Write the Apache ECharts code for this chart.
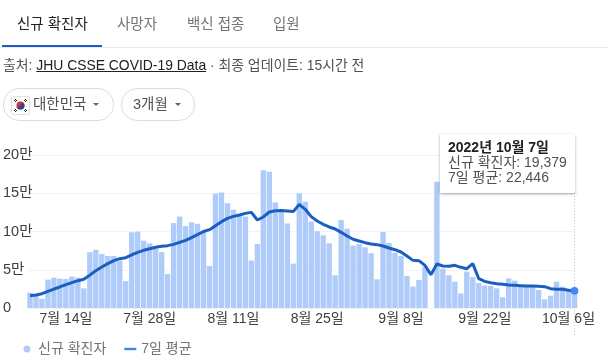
<!DOCTYPE html>
<html>
<head>
<meta charset="utf-8">
<script src="https://cdn.jsdelivr.net/npm/echarts@6/dist/echarts.min.js"></script>
<style>
html, body { margin: 0; padding: 0; background: #fff; }
body { width: 609px; height: 355px; overflow: hidden; position: relative; font-family: "Liberation Sans", "Noto Sans CJK KR", sans-serif; }
#chart { position: absolute; left: 0; top: 0; width: 609px; height: 355px; }
.tab { position: absolute; top: 15px; font-size: 14.5px; line-height: 18px; color: #70757a; white-space: nowrap; }
.tab.on { color: #202124; }
#tabline { position: absolute; left: 2px; top: 45px; width: 100px; height: 2px; background: #1a5fc0; }
#divider { position: absolute; left: 0; top: 47px; width: 609px; height: 1px; background: #e8eaed; }
#source { position: absolute; left: 3px; top: 57px; font-size: 13.9px; line-height: 17px; color: #4d5156; white-space: nowrap; }
#source u { color: #202124; }
.pill { position: absolute; top: 88px; height: 31px; border: 1px solid #dadce0; border-radius: 16px; box-sizing: content-box; font-size: 14.5px; line-height: 31px; color: #4d5156; white-space: nowrap; }
.pill span { position: absolute; top: 0; }
.caret { position: absolute; top: 14px; width: 0; height: 0; border-left: 3.5px solid transparent; border-right: 3.5px solid transparent; border-top: 3.5px solid #5f6368; }
#flag { position: absolute; left: 7px; top: 7px; width: 17px; height: 17px; border: 1px solid #e0e0e0; border-radius: 2px; }
</style>
</head>
<body>
<div id="chart"></div>
<div class="tab on" style="left:17px">신규 확진자</div>
<div class="tab" style="left:117px">사망자</div>
<div class="tab" style="left:187px">백신 접종</div>
<div class="tab" style="left:273px">입원</div>
<div id="tabline"></div>
<div id="divider"></div>
<div id="source">출처: <u>JHU CSSE COVID-19 Data</u> · 최종 업데이트: 15시간 전</div>
<div class="pill" style="left:3px;width:109px">
  <svg id="flag" viewBox="0 0 17 17"><rect width="17" height="17" fill="#fff"/><circle cx="8.5" cy="8.5" r="4" fill="#c8313e"/><path d="M4.5 8.5a4 4 0 0 0 8 0a2 2 0 0 0-4 0a2 2 0 0 1-4 0z" fill="#1f4a9c"/><path d="M2 3l2 2M3 2l2 2M15 3l-2 2M14 2l-2 2M2 14l2-2M3 15l2-2M15 14l-2-2M14 15l-2-2" stroke="#222" stroke-width="1"/></svg>
  <span style="left:29px">대한민국</span><i class="caret" style="left:89px"></i>
</div>
<div class="pill" style="left:121px;width:72px">
  <span style="left:11px">3개월</span><i class="caret" style="left:53px"></i>
</div>
<script>
// 신규 확진자 (2022-07-08 ~ 2022-10-07)
var newCases = [
	20000, 18000, 12000, 37000, 39600, 38300, 38000, 41000, 39600, 25700,
	73000, 76000, 70500, 68000, 68000, 62000, 35000, 99000, 100000, 88000,
	84500, 77500, 73000, 44500, 111000, 119500, 107000, 112000, 110000, 100000,
	55000, 149500, 151000, 137000, 128500, 122500, 119500, 62000, 83500, 180000,
	178000, 138000, 127000, 110500, 58000, 150000, 139000, 113000, 100500, 95000,
	84500, 42700, 115000, 103700, 81500, 83600, 79300, 71500, 37500, 99300,
	85000, 72300, 68000, 42000, 28000, 36600, 54000, null, 165000, 51400,
	42700, 34400, 19000, 47500, 40500, 32700, 29200, 28800, 25700, 14000,
	38800, 35700, 29600, 28800, 28800, 23500, 11300, 16100, 34400, 27900,
	25300, 19379
];
// 7일 평균
var avgCases = [
	16100, 17000, 18700, 21800, 24800, 27500, 30500, 33100, 35700, 37500,
	43000, 48800, 53600, 58000, 62000, 64500, 65800, 69300, 72800, 75400,
	77500, 79300, 80600, 81500, 83200, 85800, 88400, 92000, 95900, 100000,
	102400, 107600, 112800, 117200, 119800, 121500, 123700, 125000, 115000, 119000,
	125500, 127200, 127600, 126800, 126000, 135500, 129000, 119400, 113700, 109400,
	105900, 103300, 98900, 94100, 89800, 87600, 85400, 83700, 82800, 81000,
	78400, 76200, 73200, 68000, 62300, 61900, 55800, 43600, 57500, 54900,
	54500, 55800, 53200, 51400, 58000, 38300, 34800, 33100, 31800, 30900,
	30000, 29600, 29200, 28800, 28800, 28300, 27900, 25300, 24400, 24400,
	23100, 22446
];
var tickDays = ['7월 14일', '7월 28일', '8월 11일', '8월 25일', '9월 8일', '9월 22일', '10월 6일'];

var days = [];
var d = new Date(2022, 6, 8);
for (var i = 0; i < newCases.length; i++) {
	days.push((d.getMonth() + 1) + '월 ' + d.getDate() + '일');
	d.setDate(d.getDate() + 1);
}

var fontName = '"Liberation Sans", "Noto Sans CJK KR", sans-serif';
var lastIdx = days.length - 1;
var myChart = echarts.init(document.getElementById('chart'), null, { renderer: 'canvas' });

var option = {
	animation: false,
	textStyle: { fontFamily: fontName },
	grid: { left: 25.5, right: 31.5, top: 155, bottom: 47, containLabel: false },
	legend: {
		left: 18.5, top: 337, itemGap: 18, itemWidth: 12, itemHeight: 7,
		textStyle: { color: '#70757a', fontSize: 14, fontFamily: fontName },
		data: [
			{ name: '신규 확진자', icon: 'circle' },
			{ name: '7일 평균', icon: 'path://M0 0H12V2.4H0Z' }
		]
	},
	tooltip: {
		trigger: 'axis',
		alwaysShowContent: true,
		transitionDuration: 0,
		axisPointer: { type: 'none' },
		position: [440, 134],
		padding: [6, 8, 8, 8],
		borderWidth: 0,
		borderRadius: 1,
		backgroundColor: '#fff',
		extraCssText: 'box-shadow:0 1px 3px rgba(0,0,0,.35);line-height:15px;width:119px;',
		textStyle: { color: '#4d5156', fontSize: 14, fontFamily: fontName },
		formatter: function() {
			return '<b style="color:#202124">2022년 10월 7일</b><br>신규 확진자: 19,379<br>7일 평균: 22,446';
		}
	},
	xAxis: {
		type: 'category',
		data: days,
		axisTick: { show: false },
		axisLine: { show: false },
		axisLabel: {
			color: '#3c4043', fontSize: 14, margin: 4,
			interval: function(idx, val) { return tickDays.indexOf(val) >= 0; }
		}
	},
	yAxis: {
		type: 'value', min: 0, max: 200000, interval: 50000,
		axisLabel: {
			color: '#3c4043', fontSize: 14.5, align: 'left', margin: 24, padding: [7, 0, 0, 0],
			formatter: function(v) { return v === 0 ? '0' : (v / 10000) + '만'; }
		},
		splitLine: { lineStyle: { color: '#f1f3f4', width: 1 } }
	},
	series: [
		{
			name: '신규 확진자', type: 'bar', data: newCases,
			barCategoryGap: '10%',
			itemStyle: { color: '#aecbfa' },
			emphasis: { disabled: true }
		},
		{
			name: '7일 평균', type: 'line', data: avgCases,
			smooth: false,
			showSymbol: true,
			symbol: function(v, p) { return p.dataIndex === lastIdx ? 'circle' : 'none'; },
			symbolSize: 7,
			lineStyle: { color: '#1a5fc0', width: 3 },
			itemStyle: { color: '#4285f4' },
			emphasis: { disabled: true }
		}
	]
};
myChart.setOption(option);

// 마지막 날짜 점선
var guideX = myChart.convertToPixel({ xAxisIndex: 0 }, days[lastIdx]);
myChart.setOption({
	graphic: [{
		type: 'line', silent: true, z: 0,
		shape: { x1: guideX, y1: 190, x2: guideX, y2: 337 },
		style: { stroke: '#c4c7c5', lineWidth: 1, lineDash: [1, 2] }
	}]
});
myChart.dispatchAction({ type: 'showTip', seriesIndex: 0, dataIndex: lastIdx });
</script>
</body>
</html>
